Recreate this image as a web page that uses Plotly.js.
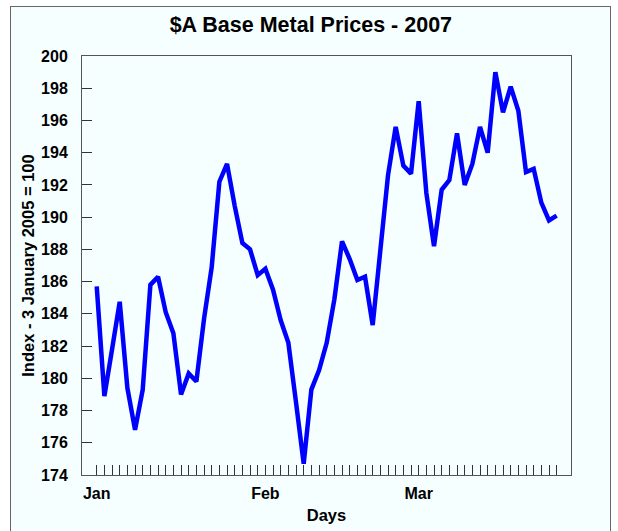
<!DOCTYPE html>
<html>
<head>
<meta charset="utf-8">
<script src="https://cdn.plot.ly/plotly-3.0.1.min.js"></script>
<style>
  html, body { margin: 0; padding: 0; background: #ffffff; }
  #frame { position: absolute; left: 10px; top: 6px; width: 601px; height: 540px;
           border: 1px solid #666666; background: #F5FFFF; box-sizing: border-box; }
  #chart { position: absolute; left: 0; top: 0; width: 618px; height: 531px; }
</style>
</head>
<body>
<div id="frame"></div>
<div id="chart"></div>
<script>
// Index values (3 January 2005 = 100), one per trading day, Jan–Mar 2007
const indexValues = [
  185.7, 178.9, 181.8, 184.75, 179.4, 176.8, 179.3, 185.8, 186.3, 184.1,
  182.8, 179.0, 180.3, 179.8, 183.7, 186.9, 192.2, 193.3, 190.7, 188.4,
  188.0, 186.4, 186.8, 185.5, 183.6, 182.2, 178.5, 174.7, 179.3, 180.5,
  182.2, 184.9, 188.5, 187.4, 186.1, 186.3, 183.3, 188.2, 192.6, 195.6,
  193.2, 192.7, 197.2, 191.5, 188.2, 191.7, 192.3, 195.2, 192.0, 193.3,
  195.6, 194.0, 199.0, 196.5, 198.1, 196.6, 192.8, 193.0, 190.9, 189.8,
  190.1
];
// Month labels and the day index at which each month starts
const monthLabels = ["Jan", "Feb", "Mar"];
const monthStartIndex = [0, 22, 42];

const dayIndex = indexValues.map((_, i) => i);
const tickText = dayIndex.map(i => {
  const k = monthStartIndex.indexOf(i);
  return k >= 0 ? monthLabels[k] : "";
});

const fam = "Liberation Sans, Arial, sans-serif";
const tickFont = { family: fam, size: 16, color: "#000000", weight: 700 };
const axisTitleFont = { family: fam, size: 16.5, color: "#000000", weight: 700 };

const trace = {
  x: dayIndex,
  y: indexValues,
  type: "scatter",
  mode: "lines",
  line: { color: "#0000FF", width: 4.5 },
  hoverinfo: "skip"
};

const layout = {
  width: 618,
  height: 531,
  paper_bgcolor: "rgba(0,0,0,0)",
  plot_bgcolor: "#F5FFFF",
  margin: { l: 82, r: 47, t: 56, b: 56 },
  showlegend: false,
  title: {
    text: "<b>$A Base Metal Prices - 2007</b>",
    font: { family: fam, size: 21.5, color: "#000000" },
    x: 0.503, xanchor: "center",
    y: 0.954, yanchor: "middle", yref: "container"
  },
  xaxis: {
    range: [-1.92, 61.87],
    tickmode: "array",
    tickvals: dayIndex,
    ticktext: tickText,
    ticks: "inside",
    ticklen: 10,
    tickwidth: 1,
    tickcolor: "#333333",
    showgrid: false,
    zeroline: false,
    showline: true,
    linecolor: "#555555",
    linewidth: 1,
    mirror: true,
    tickfont: tickFont,
    ticklabelstandoff: 4,
    title: { text: "<b>Days</b>", font: axisTitleFont, standoff: 8 }
  },
  yaxis: {
    range: [174, 200],
    tickmode: "linear",
    tick0: 174,
    dtick: 2,
    ticks: "inside",
    ticklen: 10,
    tickwidth: 1,
    tickcolor: "#333333",
    showgrid: false,
    zeroline: false,
    showline: true,
    linecolor: "#555555",
    linewidth: 1,
    mirror: true,
    tickfont: tickFont,
    ticklabelstandoff: 10,
    title: { text: "<b>Index - 3 January 2005 = 100</b>", font: axisTitleFont, standoff: 2 }
  }
};

Plotly.newPlot("chart", [trace], layout, { displayModeBar: false, staticPlot: true });
</script>
</body>
</html>
